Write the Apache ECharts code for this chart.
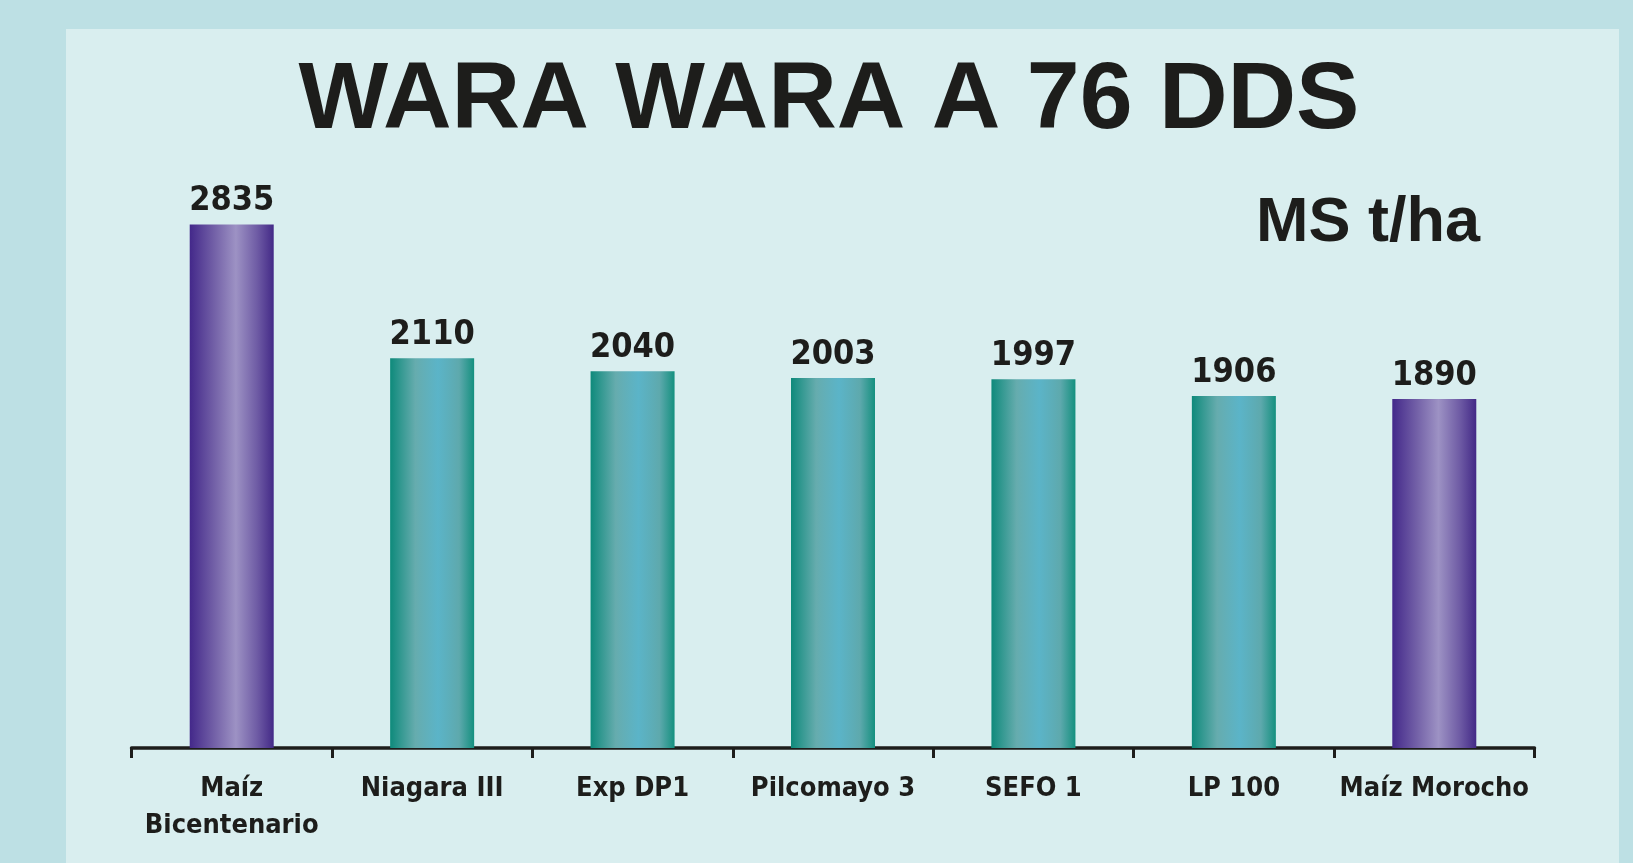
<!DOCTYPE html>
<html lang="es">
<head>
  <meta charset="UTF-8">
  <title>WARA WARA A 76 DDS</title>
  <script src="https://cdn.jsdelivr.net/npm/echarts@6/dist/echarts.min.js"></script>
  <style>
    html,body{margin:0;padding:0;background:#bde0e4;}
    #chart{width:1633px;height:863px;}
  </style>
</head>
<body>
<div id="chart"></div>
<script>
  // datos
  var categorias = ['Maíz\nBicentenario','Niagara III','Exp DP1','Pilcomayo 3','SEFO 1','LP 100','Maíz Morocho'];
  var valores = [2835,2110,2040,2003,1997,1906,1890];
  var tipo = ['testigo','var','var','var','var','var','testigo'];

  var narrow = "'Liberation Sans Narrow','DejaVu Sans Condensed',sans-serif";
  var ink = '#1d1d1b';

  function grad(t){
    if(t=='testigo'){
      return new echarts.graphic.LinearGradient(0,0,1,0,[
        {offset:0,color:'#43288a'},
        {offset:0.3,color:'#7462a8'},
        {offset:0.55,color:'#9d92c4'},
        {offset:0.8,color:'#6f5ca5'},
        {offset:1,color:'#432987'}
      ]);
    }
    return new echarts.graphic.LinearGradient(0,0,1,0,[
      {offset:0,color:'#0e8a7b'},
      {offset:0.3,color:'#66acae'},
      {offset:0.57,color:'#5bb4c8'},
      {offset:0.82,color:'#5ea9ad'},
      {offset:1,color:'#14907f'}
    ]);
  }

  var chart = echarts.init(document.getElementById('chart'));
  chart.setOption({
    backgroundColor:'#bde0e4',
    animation:false,
    graphic:[
      {type:'rect',z:-10,shape:{x:66,y:29,width:1553,height:840},style:{fill:'#d9eeef'}},
      {type:'text',style:{text:'WARA WARA A 76 DDS',x:829,y:102,textAlign:'center',textVerticalAlign:'middle',
        font:'bold 95px "Liberation Sans",Arial,sans-serif',fill:ink}},
      {type:'text',style:{text:'MS t/ha',x:1368,y:224,textAlign:'center',textVerticalAlign:'middle',
        font:'bold 63px "Liberation Sans",Arial,sans-serif',fill:ink}}
    ],
    grid:{left:131.5,right:98.5,top:194,bottom:115,containLabel:false},
    xAxis:{
      type:'category',
      data:categorias,
      axisLine:{lineStyle:{color:ink,width:3.5}},
      axisTick:{show:true,length:10,lineStyle:{color:ink,width:3}},
      axisLabel:{color:ink,fontFamily:narrow,fontWeight:'bold',fontSize:27,lineHeight:37,margin:22,interval:0}
    },
    yAxis:{type:'value',min:0,max:3000,show:false,splitLine:{show:false}},
    series:[{
      type:'bar',
      barWidth:84,
      data:valores.map(function(v,i){return {value:v,itemStyle:{color:grad(tipo[i])}};}),
      label:{show:true,position:'top',distance:6,color:ink,fontFamily:narrow,fontWeight:'bold',fontSize:34}
    }]
  });
</script>
</body>
</html>
